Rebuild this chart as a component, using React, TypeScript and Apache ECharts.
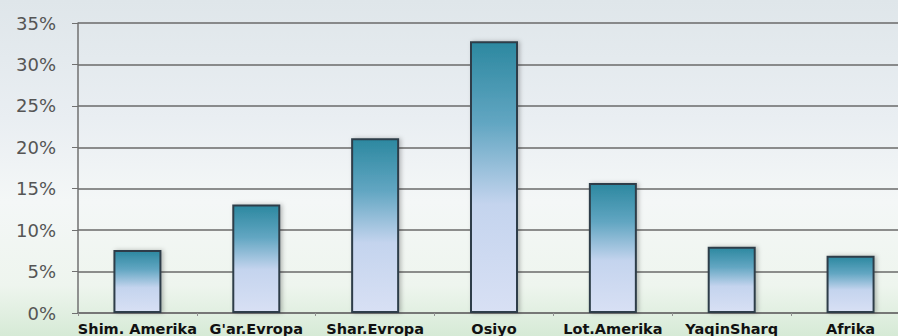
import React, { useEffect, useRef } from "react";
import * as echarts from "echarts";

const categories = ["Shim. Amerika", "G'ar.Evropa", "Shar.Evropa", "Osiyo", "Lot.Amerika", "YaqinSharq", "Afrika"];
const values = [7.6, 13.1, 21.1, 32.8, 15.7, 8.0, 6.9];
const yTicks = [0, 5, 10, 15, 20, 25, 30, 35];

export default function App() {
  const ref = useRef<HTMLDivElement>(null);
  useEffect(() => {
    document.body.style.margin = "0";
    const chart = echarts.init(ref.current!, null, { renderer: "svg" });
    chart.setOption({
      animation: false,
      backgroundColor: new echarts.graphic.LinearGradient(0, 0, 0, 1, [
        { offset: 0, color: "#dfe6ea" },
        { offset: 0.35, color: "#e9eef2" },
        { offset: 0.6, color: "#f4f7f7" },
        { offset: 0.85, color: "#eef5ee" },
        { offset: 1, color: "#d6ead6" },
      ]),
      grid: { left: 78, right: 0, top: 23, bottom: 21 },
      xAxis: {
        type: "category",
        data: categories,
        axisLine: { lineStyle: { color: "#707070", width: 1.5 } },
        axisTick: { show: true, length: 3, lineStyle: { color: "#909090" } },
        axisLabel: {
          color: "#111",
          fontFamily: "DejaVu Sans",
          fontWeight: "bold",
          fontSize: 14.5,
          margin: 8,
          interval: 0,
        },
      },
      yAxis: {
        type: "value",
        min: yTicks[0],
        max: yTicks[yTicks.length - 1],
        interval: 5,
        axisLine: { show: true, lineStyle: { color: "#707070", width: 1.5 } },
        axisTick: { show: true, length: 6, lineStyle: { color: "#707070" } },
        splitLine: { lineStyle: { color: "#6a6a6a", width: 1.5 } },
        axisLabel: {
          formatter: "{value}%",
          color: "#555",
          fontFamily: "DejaVu Sans",
          fontSize: 18,
          margin: 22,
        },
      },
      series: [
        {
          type: "bar",
          data: values,
          barWidth: 48,
          itemStyle: {
            color: new echarts.graphic.LinearGradient(0, 0, 0, 1, [
              { offset: 0, color: "#2c88a0" },
              { offset: 0.3, color: "#62a6c2" },
              { offset: 0.6, color: "#c4d4ee" },
              { offset: 1, color: "#d8e0f4" },
            ]),
            borderColor: "#2e3e48",
            borderWidth: 2,
            shadowColor: "rgba(0,0,0,0.25)",
            shadowBlur: 4,
            shadowOffsetX: 2,
          },
        },
      ],
    });
    return () => chart.dispose();
  }, []);
  return (
    <div style={{ width: 898, height: 336, overflow: "hidden", position: "relative" }}>
      <div ref={ref} style={{ width: 910, height: 336 }} />
    </div>
  );
}
